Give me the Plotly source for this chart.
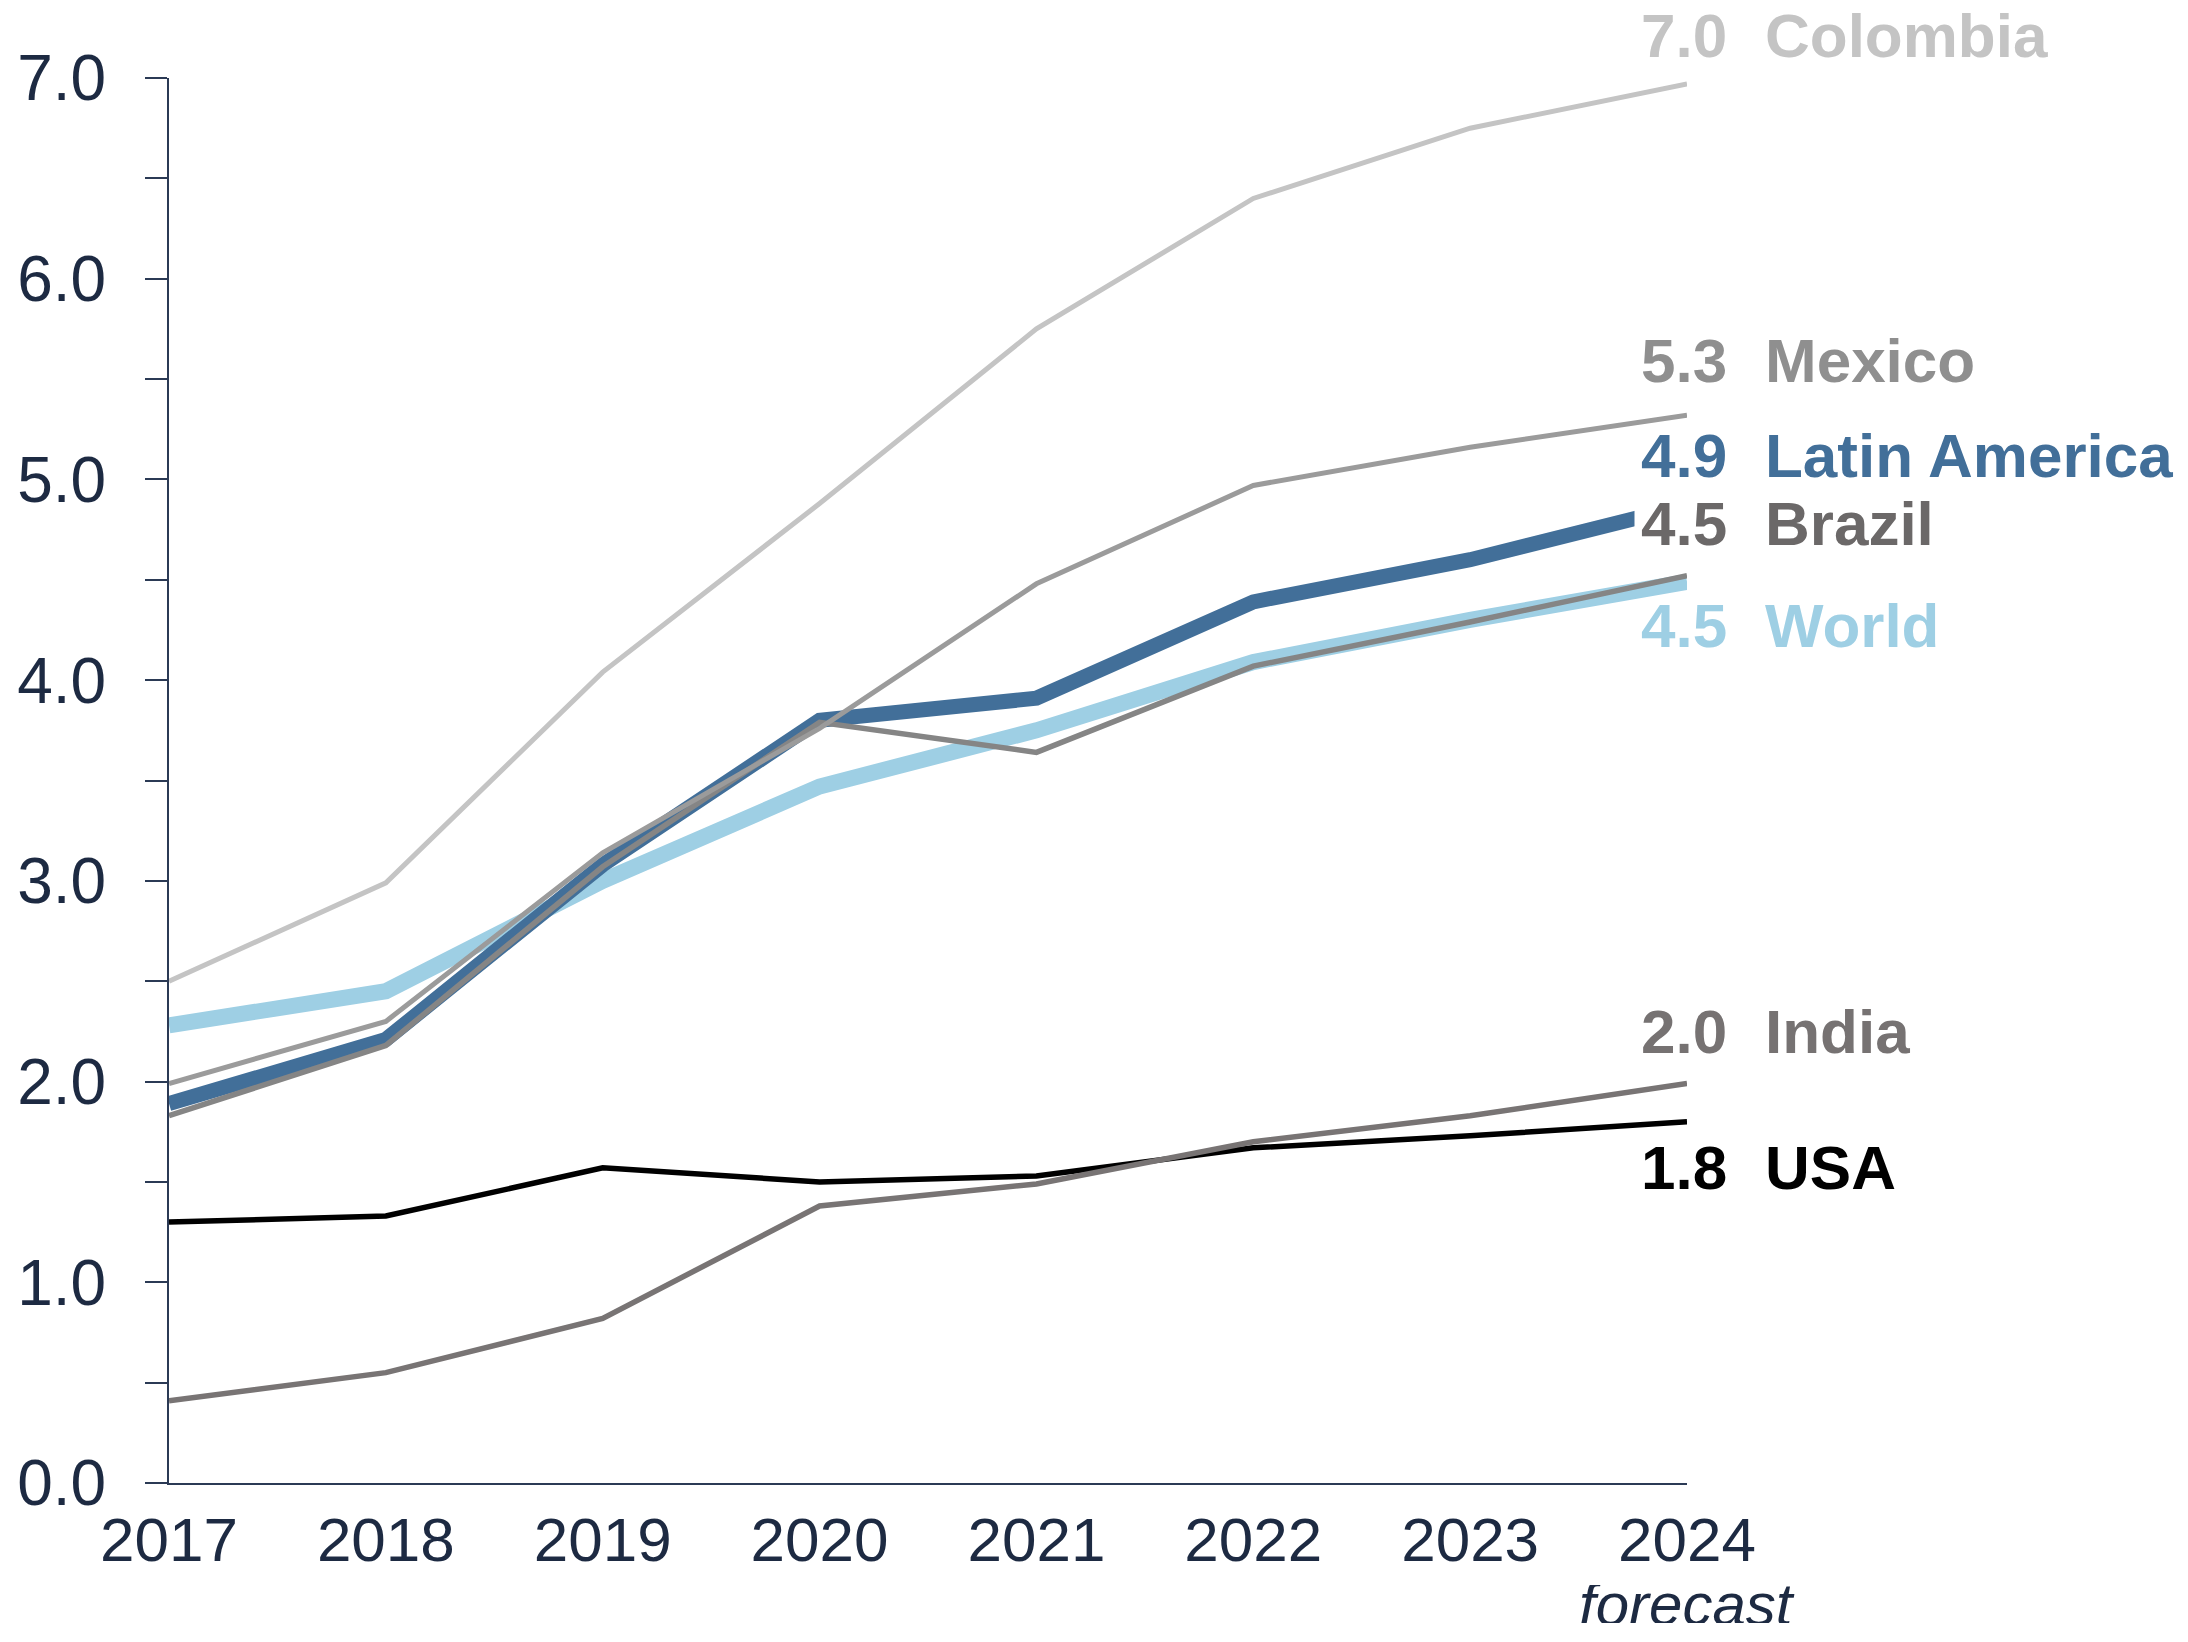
import plotly.graph_objects as go

# years on the x axis
years = [2017, 2018, 2019, 2020, 2021, 2022, 2023, 2024]

# series values
world = [2.28, 2.45, 3.00, 3.47, 3.75, 4.09, 4.30, 4.49]
latin_america = [1.89, 2.21, 3.08, 3.80, 3.91, 4.39, 4.60, 4.87]
brazil = [1.83, 2.18, 3.07, 3.79, 3.64, 4.07, 4.29, 4.52]
mexico = [1.99, 2.30, 3.14, 3.76, 4.48, 4.97, 5.16, 5.32]
colombia = [2.50, 2.99, 4.04, 4.88, 5.75, 6.40, 6.75, 6.97]
usa = [1.30, 1.33, 1.57, 1.50, 1.53, 1.67, 1.73, 1.80]
india = [0.41, 0.55, 0.82, 1.38, 1.49, 1.70, 1.83, 1.99]

names = ['World', 'Latin America', 'Brazil', 'Mexico', 'Colombia', 'USA', 'India']
end_labels = ['4.5', '4.9', '4.5', '5.3', '7.0', '1.8', '2.0']

FONT = 'Liberation Sans'
NAVY = '#1d2a42'
AXIS = '#2b3a55'

# per-series style: line colour, text colour, width, label offset (px)
styles = {
    'World': dict(line='#9ecfe4', text='#9ecfe4', width=16, dy=-43),
    'Latin America': dict(line='#426f99', text='#426f99', width=15, dy=51),
    'Brazil': dict(line='#858585', text='#6b6868', width=5.5, dy=53),
    'Mexico': dict(line='#9b9b9b', text='#8f8f8f', width=5, dy=55),
    'Colombia': dict(line='#c4c4c4', text='#c4c4c4', width=5, dy=49),
    'USA': dict(line='#000000', text='#000000', width=5.5, dy=-45),
    'India': dict(line='#787474', text='#767272', width=5.5, dy=53),
}

series = [world, latin_america, brazil, mexico, colombia, usa, india]

fig = go.Figure()
for name, vals in zip(names, series):
    st = styles[name]
    fig.add_trace(go.Scatter(
        x=years, y=vals, mode='lines', name=name,
        line=dict(color=st['line'], width=st['width']),
        hoverinfo='skip',
    ))

# end-of-line labels: value right aligned, name left aligned
for name, vals, lab in zip(names, series, end_labels):
    st = styles[name]
    fig.add_annotation(
        x=years[-1], y=vals[-1], text='<b>%s</b>' % lab, showarrow=False,
        xanchor='right', yanchor='middle', xshift=47, yshift=st['dy'],
        font=dict(family=FONT, size=62, color=st['text']),
        height=46, valign='middle',
        bgcolor='white' if name == 'Brazil' else None, borderpad=6,
    )
    fig.add_annotation(
        x=years[-1], y=vals[-1], text='<b>%s</b>' % name, showarrow=False,
        xanchor='left', yanchor='middle', xshift=76, yshift=st['dy'],
        font=dict(family=FONT, size=62, color=st['text']),
        height=46, valign='middle',
    )

fig.add_annotation(
    x=years[-1], y=0, text='<i>forecast</i>', showarrow=False,
    xanchor='center', yanchor='middle', yshift=-121,
    font=dict(family=FONT, size=60, color=NAVY),
    height=38, valign='middle',
)

fig.update_layout(
    width=2188, height=1642,
    margin=dict(l=169, r=501, t=78, b=159),
    plot_bgcolor='white', paper_bgcolor='white',
    showlegend=False,
    font=dict(family=FONT, color=NAVY),
)
fig.update_xaxes(
    range=[2017, 2024], tickvals=years, showgrid=False, zeroline=False,
    showline=True, linecolor=AXIS, linewidth=2, ticks='',
    tickfont=dict(size=62, color=NAVY), ticklabelstandoff=2,
)
fig.update_yaxes(
    range=[0, 7], dtick=1, tickformat='.1f', showgrid=False, zeroline=False,
    showline=True, linecolor=AXIS, linewidth=2,
    ticks='outside', ticklen=22, tickwidth=2, tickcolor=AXIS,
    minor=dict(dtick=0.5, ticks='outside', ticklen=22, tickwidth=2, tickcolor=AXIS),
    tickfont=dict(size=64, color=NAVY), ticklabelstandoff=26,
)

# drop the page's default body margin so the figure fills the window exactly
fig.write_html('out.html', config={'displayModeBar': False},
               post_script="document.body.style.margin='0';")
